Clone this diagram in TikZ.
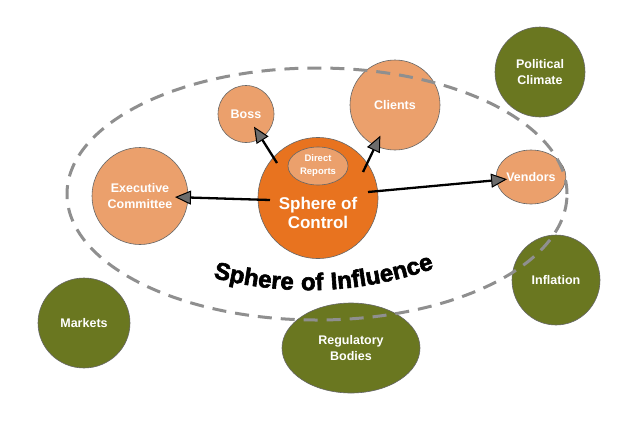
\documentclass[tikz,border=0pt]{standalone}
\usepackage{fontspec}
\setmainfont{Liberation Sans}
\newfontfamily\heavyfont[BoldFeatures={FakeBold=2.4}, LetterSpace=4]{Liberation Sans}
\usetikzlibrary{arrows.meta,shapes.geometric,decorations.text}
\definecolor{darkor}{HTML}{E8731F}
\definecolor{lightor}{HTML}{EBA06C}
\definecolor{olivegr}{HTML}{6A7720}
\definecolor{dashgray}{HTML}{8F8F8F}
\begin{document}
\begin{tikzpicture}[x=1pt,y=-1pt,
  bub/.style={ellipse, draw=black!60, line width=0.6pt, inner sep=0pt, text=white,
    font=\bfseries\fontsize{12.5}{15.5}\selectfont, align=center},
  lt/.style={bub, fill=lightor},
  ol/.style={bub, fill=olivegr},
  lbl/.style={text=white, font=\bfseries\fontsize{12}{15.5}\selectfont, align=center, inner sep=0pt},
  arr/.style={line width=2.3pt, -{Triangle[length=16pt,width=14pt,fill=gray!85!black,line width=1pt]}}]
\fill[white] (0,0) rectangle (640,421);
\useasboundingbox (0,0) rectangle (640,421);

% outer factors
\node[ol, minimum width=90pt, minimum height=90pt] (pol) at (540,72) {Political\\Climate};
\node[ol, minimum width=88pt, minimum height=90pt] (infl) at (556,280) {Inflation};
\node[ol, minimum width=92pt, minimum height=90pt] (mkt) at (84,323) {Markets};
\node[ol, minimum width=138pt, minimum height=90pt] (reg) at (351,348) {Regulatory\\Bodies};

% influence circles
\node[lt, minimum width=56pt, minimum height=57pt] (boss) at (246,114) {Boss};
\node[lt, minimum width=90pt, minimum height=90pt] (clients) at (395,105) {Clients};
\node[lt, minimum width=96pt, minimum height=97pt] (exec) at (140,196) {Executive\\Committee};
\node[lt, minimum width=57pt, minimum height=54pt] (vendors) at (531,177) {Vendors};

% sphere of control
\node[ellipse, draw=black!60, line width=0.6pt, fill=darkor, minimum width=120pt, minimum height=121pt, inner sep=0pt] (soc) at (318,198) {};
\node[lbl, font=\bfseries\fontsize{17}{19.5}\selectfont] (soct) at (318,213) {Sphere of\\Control};
\node[lt, minimum width=60pt, minimum height=38pt, font=\bfseries\fontsize{9.5}{13}\selectfont] (dr) at (318,166) {Direct\\Reports};

% arrows
\coordinate (s1) at (277,163);
\coordinate (s2) at (363,172);
\coordinate (s3) at (270,200);
\coordinate (s4) at (368,192);
\draw[arr, shorten >=15pt] (s1) -- (boss.center);
\draw[arr, shorten >=34pt] (s2) -- (clients.center);
\draw[arr, shorten >=35pt] (s3) -- (exec.center);
\draw[arr, shorten >=24pt] (s4) -- (vendors.center);

% sphere of influence
\draw[dashgray, line width=3pt, dash pattern=on 14pt off 9pt] (317,194) ellipse [x radius=250pt, y radius=126pt];
\path[decorate, decoration={text along path, text align=center,
  text={|\heavyfont\bfseries\fontsize{24}{26}\selectfont|Sphere of Influence}}]
  (203,275) .. controls (284,298) and (362,295) .. (444,265);
\end{tikzpicture}
\end{document}
